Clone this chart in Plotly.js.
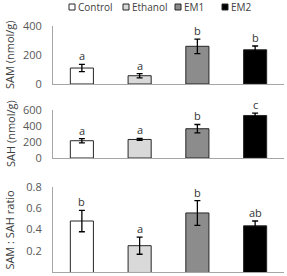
<!DOCTYPE html>
<html><head><meta charset="utf-8">
<script src="https://cdn.plot.ly/plotly-3.0.1.min.js"></script>
<style>html,body{margin:0;padding:0;background:#fff}#c{width:287px;height:276px}</style>
</head><body><div id="c"></div>
<script>
const categories = ['Control','Ethanol','EM1','EM2'];
const barColors = ['#ffffff','#d9d9d9','#8c8c8c','#000000'];
const samMean = [110, 57, 260, 236];
const samErr = [25, 15, 50, 26];
const samLetters = ['a','a','b','b'];
const sahMean = [216, 232, 366, 532];
const sahErr = [27, 12, 53, 30];
const sahLetters = ['a','a','b','c'];
const ratioMean = [0.48, 0.25, 0.555, 0.435];
const ratioErr = [0.10, 0.08, 0.115, 0.045];
const ratioLetters = ['b','a','b','ab'];
const yTitles = ['SAM (nmol/g)','SAH (nmol/g)','SAM : SAH ratio'];

const FONT = 'Open Sans, sans-serif';
const panels = [
  {mean: samMean, err: samErr, letters: samLetters, range:[0,400], dtick:200, fmt:'', dom:[0.6957,0.9058]},
  {mean: sahMean, err: sahErr, letters: sahLetters, range:[0,600], dtick:200, fmt:'', dom:[0.4275,0.6014]},
  {mean: ratioMean, err: ratioErr, letters: ratioLetters, range:[0,0.8], dtick:0.2, fmt:'.1f', dom:[0.0127,0.3236]}
];

const data = [];
const layout = {
  width:287, height:276,
  margin:{l:53,r:3,t:0,b:0},
  paper_bgcolor:'#fff', plot_bgcolor:'#fff',
  showlegend:false, bargap:0.6,
  font:{family:FONT, size:10, color:'#595959'},
  annotations:[], shapes:[]
};

panels.forEach((p,i)=>{
  const n = i===0 ? '' : String(i+1);
  data.push({
    type:'bar', x:categories, y:p.mean,
    xaxis:'x'+n, yaxis:'y'+n,
    marker:{color:barColors, line:{color:'#262626', width:1}},
    error_y:{type:'data', array:p.err, visible:true, color:'#000', thickness:1.3, width:3},
    hoverinfo:'none'
  });
  layout['xaxis'+n] = {
    domain:[0,1], anchor:'y'+n, showticklabels:false, ticks:'',
    showline:true, linecolor:'#a6a6a6', linewidth:1, showgrid:false, zeroline:false,
    fixedrange:true
  };
  layout['yaxis'+n] = {
    domain:p.dom, anchor:'x'+n, range:p.range, dtick:p.dtick, tickformat:p.fmt,
    showline:true, linecolor:'#a6a6a6', linewidth:1, showgrid:false, zeroline:false,
    ticks:'', ticklabelstandoff:8, tickfont:{family:FONT, size:11, color:'#595959'},
    fixedrange:true
  };
  layout.annotations.push({
    text:yTitles[i], textangle:-90, xref:'paper', x:-0.186, xanchor:'center',
    yref:'y'+n+' domain', y:0.5, yanchor:'middle', showarrow:false,
    font:{family:FONT, size:11, color:'#404040'}
  });
  categories.forEach((c,j)=>{
    layout.annotations.push({
      text:p.letters[j], xref:'x'+n, yref:'y'+n, x:c, y:p.mean[j]+p.err[j],
      yanchor:'bottom', xanchor:'center', showarrow:false, yshift:-1,
      font:{family:FONT, size:11, color:'#333333'}
    });
  });
});

// legend (built from series names/colors)
const legX = [72, 126, 178, 225];
const legY = 7;
categories.forEach((c,j)=>{
  const px = (legX[j]-53)/231;
  const py = (276-legY)/276;
  layout.shapes.push({
    type:'rect', xref:'paper', yref:'paper', xsizemode:'pixel', ysizemode:'pixel',
    xanchor:px, yanchor:py, x0:-3, x1:3, y0:-3, y1:3,
    fillcolor:barColors[j], line:{color:'#262626', width:1}
  });
  layout.annotations.push({
    text:c, xref:'paper', yref:'paper', x:(legX[j]+4-53)/231, y:py,
    xanchor:'left', yanchor:'middle', showarrow:false,
    font:{family:FONT, size:10, color:'#404040'}
  });
});

Plotly.newPlot('c', data, layout, {displayModeBar:false, staticPlot:true});
</script>
</body></html>
